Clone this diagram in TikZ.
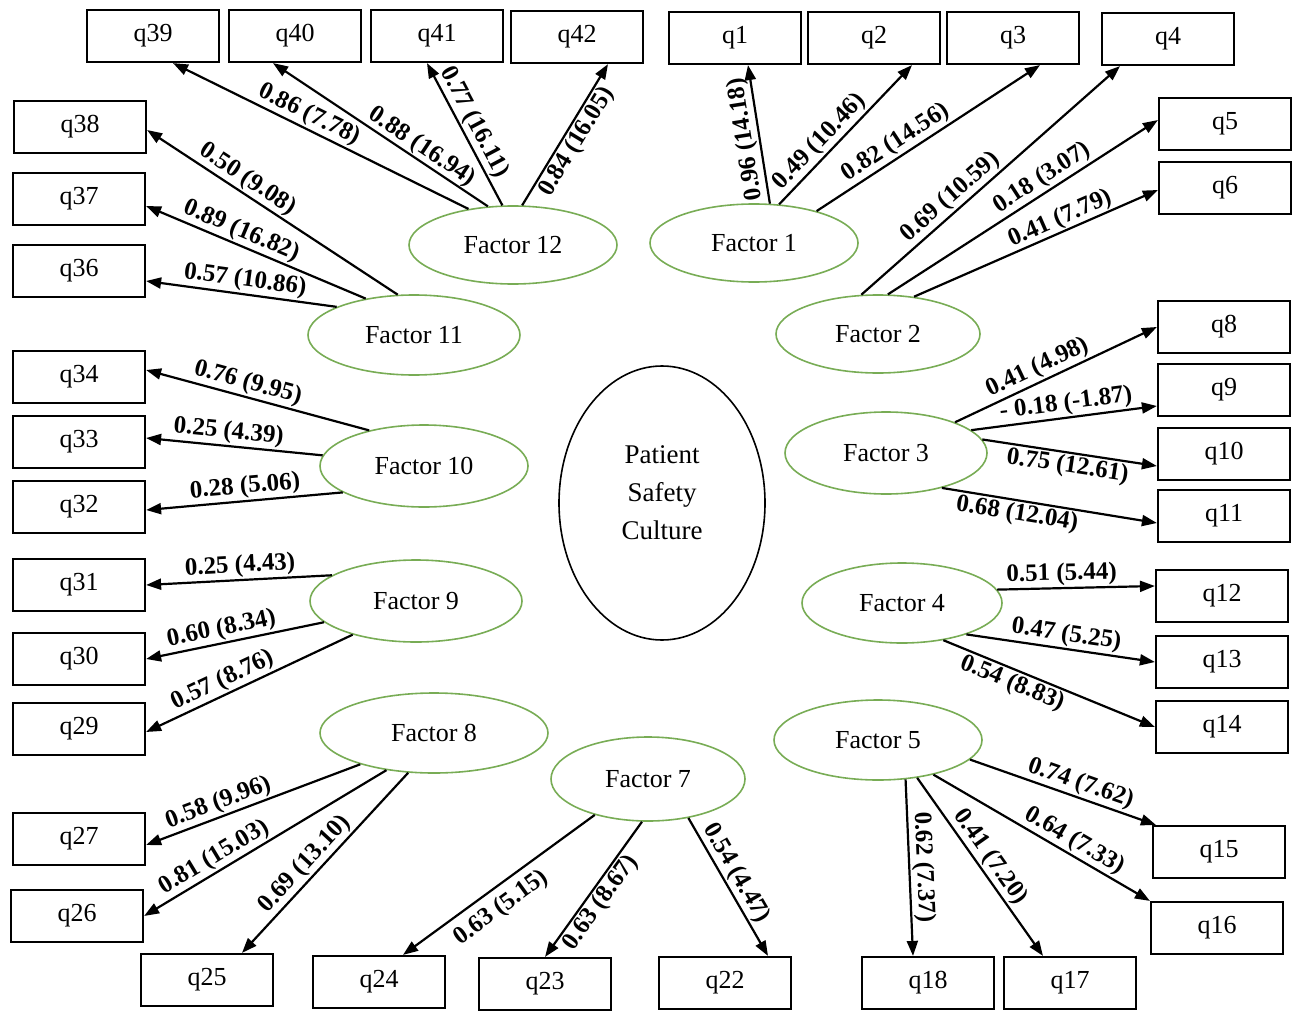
\documentclass[tikz,border=0pt]{standalone}
\usepackage{fontspec}
\setmainfont{Liberation Serif}
\usetikzlibrary{shapes.geometric,arrows.meta}
\definecolor{fgreen}{RGB}{120,172,85}
\tikzset{
  qbox/.style={draw, line width=2.2pt, minimum width=132pt, minimum height=52pt, inner sep=0pt, font=\fontsize{26}{30}\selectfont},
  factor/.style={ellipse, draw=fgreen, line width=1.6pt, inner sep=0pt, font=\fontsize{26}{30}\selectfont},
  arr/.style={line width=2.2pt, -{Triangle[length=15pt,width=11pt]}},
  lab/.style={font=\bfseries\fontsize{25}{28}\selectfont, sloped, inner sep=1.5pt},
}
\begin{document}
\begin{tikzpicture}[x=1pt,y=-1pt]
\useasboundingbox (0,0) rectangle (1292,1011);
% boxes
\node[qbox] (q39) at (153,36) {q39};
\node[qbox] (q40) at (295,36) {q40};
\node[qbox] (q41) at (437,36) {q41};
\node[qbox] (q42) at (577,37) {q42};
\node[qbox] (q1) at (735,38) {q1};
\node[qbox] (q2) at (874,38) {q2};
\node[qbox] (q3) at (1013,38) {q3};
\node[qbox] (q4) at (1168,39) {q4};
\node[qbox] (q5) at (1225,124) {q5};
\node[qbox] (q6) at (1225,188) {q6};
\node[qbox] (q8) at (1224,327) {q8};
\node[qbox] (q9) at (1224,390) {q9};
\node[qbox] (q10) at (1224,454) {q10};
\node[qbox] (q11) at (1224,516) {q11};
\node[qbox] (q12) at (1222,596) {q12};
\node[qbox] (q13) at (1222,662) {q13};
\node[qbox] (q14) at (1222,727) {q14};
\node[qbox] (q15) at (1219,852) {q15};
\node[qbox] (q16) at (1217,928) {q16};
\node[qbox] (q17) at (1070,983) {q17};
\node[qbox] (q18) at (928,983) {q18};
\node[qbox] (q22) at (725,983) {q22};
\node[qbox] (q23) at (545,984) {q23};
\node[qbox] (q24) at (379,982) {q24};
\node[qbox] (q25) at (207,980) {q25};
\node[qbox] (q26) at (77,916) {q26};
\node[qbox] (q27) at (79,839) {q27};
\node[qbox] (q29) at (79,729) {q29};
\node[qbox] (q30) at (79,659) {q30};
\node[qbox] (q31) at (79,585) {q31};
\node[qbox] (q32) at (79,507) {q32};
\node[qbox] (q33) at (79,442) {q33};
\node[qbox] (q34) at (79,377) {q34};
\node[qbox] (q36) at (79,271) {q36};
\node[qbox] (q37) at (79,199) {q37};
\node[qbox] (q38) at (80,127) {q38};
% factors
\node[factor, minimum width=208pt, minimum height=78pt] (f12) at (513,245) {Factor 12};
\node[factor, minimum width=208pt, minimum height=78pt] (f1) at (754,243) {Factor 1};
\node[factor, minimum width=212pt, minimum height=80pt] (f11) at (414,335) {Factor 11};
\node[factor, minimum width=204pt, minimum height=78pt] (f2) at (878,334) {Factor 2};
\node[factor, minimum width=208pt, minimum height=82pt] (f10) at (424,466) {Factor 10};
\node[factor, minimum width=202pt, minimum height=82pt] (f3) at (886,453) {Factor 3};
\node[factor, minimum width=212pt, minimum height=82pt] (f9) at (416,601) {Factor 9};
\node[factor, minimum width=200pt, minimum height=80pt] (f4) at (902,603) {Factor 4};
\node[factor, minimum width=228pt, minimum height=80pt] (f8) at (434,733) {Factor 8};
\node[factor, minimum width=194pt, minimum height=84pt] (f7) at (648,779) {Factor 7};
\node[factor, minimum width=208pt, minimum height=80pt] (f5) at (878,740) {Factor 5};
\node[ellipse, draw, line width=1.6pt, minimum width=206pt, minimum height=274pt, inner sep=0pt] (psc) at (662,503) {};
\node[align=center, font=\fontsize{27}{38}\selectfont, inner sep=0pt] (psctext) at ([yshift=10pt]psc.center) {Patient\\Safety\\Culture};
% Factor 12
\draw[arr] (f12.141) -- ([xshift=20pt]q39.south) node[lab, pos=.56, above] {0.86 (7.78)};
\draw[arr] (f12.123) -- ([xshift=-22pt]q40.south) node[lab, pos=.34, above, inner sep=0.5pt] {0.88 (16.94)};
\draw[arr] (f12.105) -- ([xshift=-10pt]q41.south) node[lab, pos=.54, above] {0.77 (16.11)};
\draw[arr] (f12.77) -- ([xshift=31pt]q42.south) node[lab, pos=.5, below] {0.84 (16.05)};
% Factor 1
\draw[arr] (f1.68) -- ([xshift=13pt]q1.south) node[lab, pos=.48, above, allow upside down] {0.96 (14.18)};
\draw[arr] (f1.57) -- ([xshift=38pt]q2.south) node[lab, pos=.38, above] {0.49 (10.46)};
\draw[arr] (f1.27) -- ([xshift=27pt]q3.south) node[lab, pos=.39, above] {0.82 (14.56)};
% Factor 2
\draw[arr] (f2.113) -- ([xshift=-48pt]q4.south) node[lab, pos=.38, above] {0.69 (10.59)};
\draw[arr] (f2.76) -- ([yshift=4pt]q5.west) node[lab, pos=.6, above] {0.18 (3.07)};
\draw[arr] (f2.46) -- ([yshift=-2pt]q6.west) node[lab, pos=.62, above, inner sep=0pt] {0.41 (7.79)};
% Factor 3
\draw[arr] (f3.24) -- (q8.west) node[lab, pos=.44, above] {0.41 (4.98)};
\draw[arr] (f3.15) -- ([yshift=-16pt]q9.west) node[lab, pos=.52, above] {- 0.18 (-1.87)};
\draw[arr] (f3.8) -- ([yshift=-12pt]q10.west) node[lab, pos=.5, below] {0.75 (12.61)};
\draw[arr] (f3.328) -- ([yshift=-7pt]q11.west) node[lab, pos=.36, below] {0.68 (12.04)};
% Factor 4
\draw[arr] (f4.8) -- ([yshift=10pt]q12.west) node[lab, pos=.41, above] {0.51 (5.44)};
\draw[arr] (f4.334) -- (q13.west) node[lab, pos=.52, above] {0.47 (5.25)};
\draw[arr] (f4.318) -- (q14.west) node[lab, pos=.35, below] {0.54 (8.83)};
% Factor 5
\draw[arr] (f5.348) -- ([xshift=4pt]q15.north west) node[lab, pos=.57, above] {0.74 (7.62)};
\draw[arr] (f5.328) -- (q16.north west) node[lab, pos=.62, above] {0.64 (7.33)};
\draw[arr] (f5.316) -- ([xshift=-27pt]q17.north) node[lab, pos=.49, above] {0.41 (7.20)};
\draw[arr] (f5.305) -- ([xshift=-15pt]q18.north) node[lab, pos=.5, above] {0.62 (7.37)};
% Factor 7
\draw[arr] (f7.316) -- ([xshift=43pt]q22.north) node[lab, pos=.45, above] {0.54 (4.47)};
\draw[arr] (f7.262) -- (q23.north) node[lab, pos=.54, below] {0.63 (8.67)};
\draw[arr] (f7.214) -- ([xshift=24pt]q24.north) node[lab, pos=.55, below=6pt] {0.63 (5.15)};
% Factor 8
\draw[arr] (f8.237) -- ([xshift=35pt]q25.north) node[lab, pos=.56, above] {0.69 (13.10)};
\draw[arr] (f8.218) -- (q26.east) node[lab, pos=.68, above] {0.81 (15.03)};
\draw[arr] (f8.203) -- ([yshift=-6pt]q27.east) node[lab, pos=.64, above] {0.58 (9.96)};
% Factor 9
\draw[arr] (f9.208) -- ([yshift=-3pt]q29.east) node[lab, pos=.6, above] {0.57 (8.76)};
\draw[arr] (f9.193) -- (q30.east) node[lab, pos=.56, above] {0.60 (8.34)};
\draw[arr] (f9.163) -- (q31.east) node[lab, pos=.49, above] {0.25 (4.43)};
% Factor 10
\draw[arr] (f10.198) -- ([yshift=-3pt]q32.east) node[lab, pos=.49, above] {0.28 (5.06)};
\draw[arr] (f10.174) -- ([yshift=4pt]q33.east) node[lab, pos=.54, above] {0.25 (4.39)};
\draw[arr] (f10.147) -- ([yshift=7pt]q34.east) node[lab, pos=.56, above] {0.76 (9.95)};
% Factor 11
\draw[arr] (f11.160) -- ([yshift=-10pt]q36.east) node[lab, pos=.49, above] {0.57 (10.86)};
\draw[arr] (f11.143) -- ([yshift=-7pt]q37.east) node[lab, pos=.59, above] {0.89 (16.82)};
\draw[arr] (f11.112) -- ([yshift=-3pt]q38.east) node[lab, pos=.63, above] {0.50 (9.08)};
\end{tikzpicture}
\end{document}
